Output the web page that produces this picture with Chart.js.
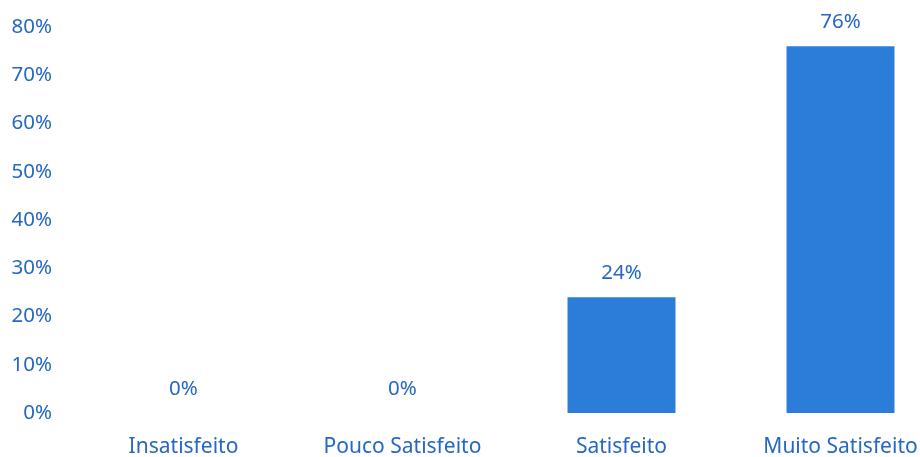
<!DOCTYPE html>
<html>
<head>
<meta charset="utf-8">
<script src="https://cdn.jsdelivr.net/npm/chart.js@4"></script>
<style>
  html, body { margin: 0; padding: 0; background: #fff; overflow: hidden; }
  #wrap { width: 950px; height: 457px; }
</style>
</head>
<body>
<div id="wrap"><canvas id="satisfactionChart"></canvas></div>
<script>
const categories = ["Insatisfeito", "Pouco Satisfeito", "Satisfeito", "Muito Satisfeito"];
const percentages = [0, 0, 24, 76];
const yTicks = [0, 10, 20, 30, 40, 50, 60, 70, 80];

const barColor = "#2c7cda";
const textColor = "#2567c4";
const font = { family: "'Noto Sans', sans-serif", size: 20.5 };

// value labels above each bar
const valueLabels = {
  id: "valueLabels",
  afterDatasetsDraw(chart) {
    const ctx = chart.ctx;
    const meta = chart.getDatasetMeta(0);
    ctx.save();
    ctx.font = "20.5px 'Noto Sans', sans-serif";
    ctx.fillStyle = textColor;
    ctx.textAlign = "center";
    ctx.textBaseline = "middle";
    meta.data.forEach((bar, i) => {
      ctx.fillText(percentages[i] + "%", bar.x, bar.y - 24);
    });
    ctx.restore();
  },
};

const ctx = document.getElementById("satisfactionChart").getContext("2d");
new Chart(ctx, {
  type: "bar",
  data: {
    labels: categories,
    datasets: [
      {
        data: percentages,
        backgroundColor: barColor,
        borderWidth: 0,
        categoryPercentage: 1,
        barPercentage: 0.493,
      },
    ],
  },
  options: {
    responsive: true,
    maintainAspectRatio: false,
    animation: false,
    layout: { padding: { top: 27, right: 0, left: 0, bottom: 0 } },
    plugins: {
      legend: { display: false },
      tooltip: { enabled: false },
    },
    scales: {
      x: {
        grid: { display: false, drawTicks: false },
        border: { display: false },
        ticks: { color: textColor, font: { family: font.family, size: 21 }, padding: 21 },
        afterFit(scale) { scale.height = 44; },
      },
      y: {
        min: 0,
        max: 80,
        grid: { display: false, drawTicks: false },
        border: { display: false },
        afterBuildTicks(scale) {
          scale.ticks = yTicks.map((v) => ({ value: v }));
        },
        ticks: {
          color: textColor,
          font: font,
          padding: 22,
          callback: (v) => v + "%",
        },
        afterFit(scale) {
          scale.width = 74;
          scale.paddingTop = 0;
          scale.paddingBottom = 0;
        },
      },
    },
  },
  plugins: [valueLabels],
});
</script>
</body>
</html>
